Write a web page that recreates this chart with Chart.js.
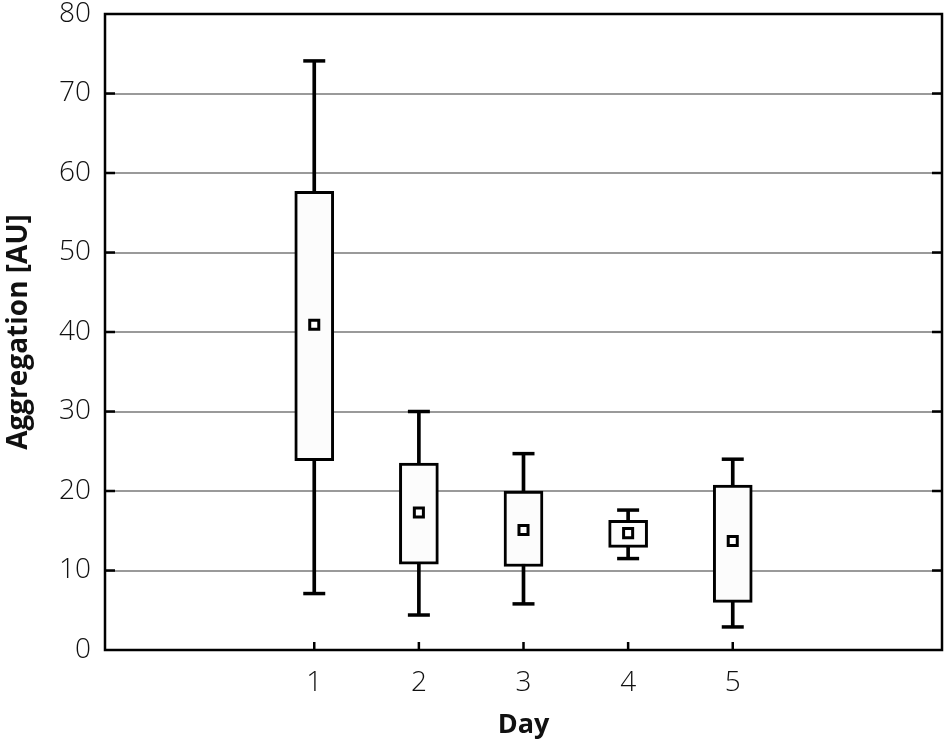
<!DOCTYPE html>
<html>
<head>
<meta charset="utf-8">
<script src="https://cdn.jsdelivr.net/npm/chart.js@4.4.1/dist/chart.umd.min.js"></script>
<style>
html,body{margin:0;padding:0;background:#fff;}
canvas{display:block;}
</style>
</head>
<body>
<canvas id="c" width="944" height="742"></canvas>
<script>
// Data
const days = [1, 2, 3, 4, 5];
const whiskerLow  = [7.1, 4.4, 5.8, 11.5, 2.9];
const boxLow      = [23.8, 10.8, 10.5, 12.9, 6.0];
const centerVal   = [40.9, 17.3, 15.1, 14.7, 13.7];
const boxHigh     = [57.7, 23.5, 20.0, 16.3, 20.75];
const whiskerHigh = [74.1, 30.0, 24.7, 17.6, 24.0];
const yTicks = [0, 10, 20, 30, 40, 50, 60, 70, 80];
const xTitle = 'Day';
const yTitle = 'Aggregation [AU]';

const FONT = "'Open Sans', 'Noto Sans', sans-serif";

const whiskerData = days.map((d, i) => ({x: d, y: [whiskerLow[i], whiskerHigh[i]]}));
const boxData = days.map((d, i) => ({x: d, y: [boxLow[i], boxHigh[i]]}));
const capData = days.flatMap((d, i) => [{x: d, y: whiskerLow[i]}, {x: d, y: whiskerHigh[i]}]);
const centerData = days.map((d, i) => ({x: d, y: centerVal[i]}));

const frame = {
  id: 'frame',
  afterDraw(chart) {
    const {ctx, chartArea: a, scales} = chart;
    ctx.save();
    ctx.strokeStyle = '#000';
    ctx.lineWidth = 2.5;
    ctx.strokeRect(a.left, a.top, a.right - a.left, a.bottom - a.top);
    ctx.beginPath();
    yTicks.forEach(v => {
      if (v === yTicks[0] || v === yTicks[yTicks.length - 1]) return;
      const y = scales.y.getPixelForValue(v);
      ctx.moveTo(a.left, y); ctx.lineTo(a.left + 10, y);
      ctx.moveTo(a.right, y); ctx.lineTo(a.right - 10, y);
    });
    days.forEach(d => {
      const x = scales.x.getPixelForValue(d);
      ctx.moveTo(x, a.bottom); ctx.lineTo(x, a.bottom - 8);
    });
    ctx.stroke();
    ctx.restore();
  }
};

new Chart(document.getElementById('c'), {
  type: 'bar',
  data: {
    datasets: [
      {type: 'bar', data: whiskerData, backgroundColor: '#000', borderWidth: 0, barThickness: 3, grouped: false, order: 4},
      {type: 'scatter', data: capData, pointStyle: 'line', radius: 11, borderColor: '#000', borderWidth: 3.5, order: 3},
      {type: 'bar', data: boxData, backgroundColor: '#fcfcfc', borderColor: '#000', borderWidth: 3, borderSkipped: false, barThickness: 39, grouped: false, order: 2},
      {type: 'scatter', data: centerData, pointStyle: 'rect', radius: 6.4, backgroundColor: '#fff', borderColor: '#000', borderWidth: 3, order: 1}
    ]
  },
  options: {
    responsive: false,
    animation: false,
    events: [],
    layout: {autoPadding: false, padding: {top: 14, right: 2, left: 0, bottom: 0}},
    plugins: {legend: {display: false}, tooltip: {enabled: false}},
    scales: {
      x: {
        type: 'linear',
        min: -1, max: 7,
        offset: false,
        grid: {display: false, drawTicks: false},
        border: {display: false},
        afterBuildTicks: s => { s.ticks = days.map(v => ({value: v})); },
        afterFit: s => { s.height = 92; s.paddingLeft = 0; s.paddingRight = 0; },
        ticks: {color: '#111', font: {family: FONT, size: 28, weight: 300}, padding: 16, maxRotation: 0, autoSkip: false,
          callback: v => String(v)},
        title: {display: true, text: xTitle, color: '#111', font: {family: FONT, size: 27, weight: 'bold'}, padding: {top: 2, bottom: 0}}
      },
      y: {
        min: 0, max: 80,
        afterBuildTicks: s => { s.ticks = yTicks.map(v => ({value: v})); },
        afterFit: s => { s.width = 105; s.paddingTop = 0; s.paddingBottom = 0; },
        grid: {drawTicks: false, lineWidth: 2,
          color: c => (c.tick && (c.tick.value === 0 || c.tick.value === 80)) ? 'rgba(0,0,0,0)' : '#9a9a9a'},
        border: {display: false},
        ticks: {color: '#111', font: {family: FONT, size: 28, weight: 300}, padding: 14},
        title: {display: true, text: yTitle, color: '#111', font: {family: FONT, size: 28, weight: 'bold'}, padding: {top: 2, bottom: 0}}
      }
    }
  },
  plugins: [frame]
});
</script>
</body>
</html>
